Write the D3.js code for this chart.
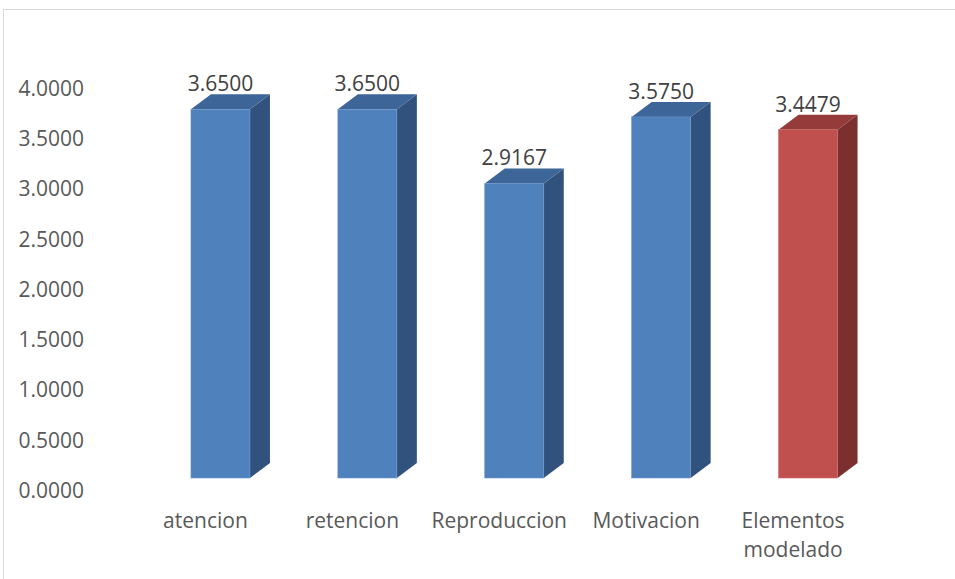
<!DOCTYPE html>
<html>
<head>
<meta charset="utf-8">
<script src="https://cdn.jsdelivr.net/npm/d3@7"></script>
<style>
	html, body { margin: 0; padding: 0; background: #fff; }
	#vizHolder { width: 955px; height: 579px; }
	text { font-family: "Open Sans", sans-serif; }
</style>
</head>
<body>
<div id="vizHolder"></div>
<script>
var	categories = ['atencion', 'retencion', 'Reproduccion', 'Motivacion', 'Elementos modelado'],
		values = [3.65, 3.65, 2.9167, 3.575, 3.4479],
		valueLabels = ['3.6500', '3.6500', '2.9167', '3.5750', '3.4479'],
		tickValues = [0, 0.5, 1, 1.5, 2, 2.5, 3, 3.5, 4],
		highlight = ['no', 'no', 'no', 'no', 'yes'];

var	width = 955,
		height = 579,
		depthX = 20,
		depthY = 15,
		fontSize = '21px';

var colors = {
	no: { front: '#4f81bd', top: '#3d6597', side: '#31527d', edge: '#6d96c8' },
	yes: { front: '#c0504d', top: '#953b39', side: '#7b2f2e', edge: '#cf6d6a' }
};

var svg = d3.select('#vizHolder')
			.append('svg')
			.attr('width', width)
			.attr('height', height);

// chart frame
svg.append('rect')
	.attr('x', 3.5)
	.attr('y', 9.5)
	.attr('width', 1000)
	.attr('height', 1000)
	.attr('fill', 'none')
	.attr('stroke', '#d9d9d9')
	.attr('stroke-width', 1);

var xScale = d3.scaleBand()
	.domain(categories)
	.range([147, 881.5]);

// front face scale
var yScale = d3.scaleLinear()
	.domain([0, 4])
	.range([478, 74]);

// axis labels sit slightly below the front face scale (3d wall)
var yAxisScale = d3.scaleLinear()
	.domain([0, 4])
	.range([490, 88]);

var yAxis = svg.append('g')
	.attr('transform', 'translate(84,0)')
	.call(d3.axisLeft(yAxisScale).tickValues(tickValues).tickSize(0).tickPadding(0).tickFormat(d3.format('.4f')));
yAxis.select('.domain').remove();
yAxis.selectAll('text')
	.attr('font-size', fontSize)
	.attr('font-family', '"Open Sans", sans-serif')
	.attr('fill', '#595959')
	.attr('dy', '0.35em');

var barW = 59;

var bars = svg.selectAll('g.bar')
	.data(categories)
	.enter()
	.append('g')
	.attr('class', 'bar');

bars.each(function(d, i) {
	var g = d3.select(this),
		c = colors[highlight[i]],
		cx = xScale(d) + xScale.bandwidth() / 2,
		x0 = cx - barW / 2,
		x1 = cx + barW / 2,
		yTop = yScale(values[i]),
		yBot = yScale(0);

	// right side
	g.append('path')
		.attr('d', 'M' + x1 + ',' + yTop + 'L' + (x1 + depthX) + ',' + (yTop - depthY) +
			'L' + (x1 + depthX) + ',' + (yBot - depthY) + 'L' + x1 + ',' + yBot + 'Z')
		.attr('fill', c.side);
	// top
	g.append('path')
		.attr('d', 'M' + x0 + ',' + yTop + 'L' + (x0 + depthX) + ',' + (yTop - depthY) +
			'L' + (x1 + depthX) + ',' + (yTop - depthY) + 'L' + x1 + ',' + yTop + 'Z')
		.attr('fill', c.top);
	// front
	g.append('rect')
		.attr('x', x0)
		.attr('y', yTop)
		.attr('width', barW)
		.attr('height', yBot - yTop)
		.attr('fill', c.front)
		.attr('stroke', c.edge)
		.attr('stroke-width', 0.6);

	g.append('text')
		.attr('x', cx)
		.attr('y', yTop - 18)
		.attr('text-anchor', 'middle')
		.attr('font-size', fontSize)
		.attr('fill', '#404040')
		.text(valueLabels[i]);
});

// category labels (offset left like the 3d floor)
var catLabels = svg.selectAll('text.cat')
	.data(categories)
	.enter()
	.append('text')
	.attr('class', 'cat')
	.attr('x', function(d) { return xScale(d) + xScale.bandwidth() / 2 - 15; })
	.attr('y', 528)
	.attr('text-anchor', 'middle')
	.attr('font-size', fontSize)
	.attr('fill', '#595959');

catLabels.each(function(d) {
	var words = d === 'Elementos modelado' ? ['Elementos', 'modelado'] : [d];
	var t = d3.select(this);
	words.forEach(function(w, k) {
		t.append('tspan')
			.attr('x', t.attr('x'))
			.attr('dy', k === 0 ? 0 : 29)
			.text(w);
	});
});
</script>
</body>
</html>
